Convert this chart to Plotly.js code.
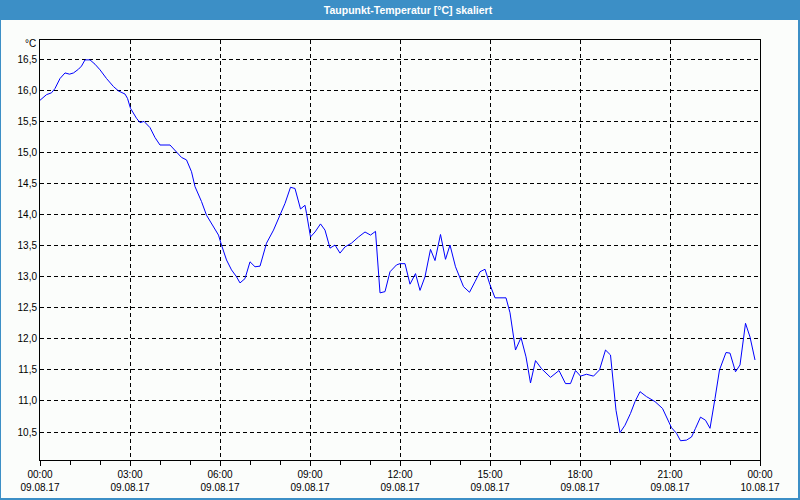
<!DOCTYPE html>
<html>
<head>
<meta charset="utf-8">
<script src="https://cdn.plot.ly/plotly-3.0.1.min.js"></script>
<style>
  html, body { margin: 0; padding: 0; background: #3c8fc6; }
  #chart { width: 800px; height: 500px; }
</style>
</head>
<body>
<div id="chart"></div>
<script>
// Dew point temperature on 09.08.17 (°C)
const chartTitle = "Taupunkt-Temperatur [°C] skaliert";
const unitLabel = "°C";
const day = "2017-08-09";
const nextDay = "2017-08-10";

const times = [
  "00:00","00:13","00:23","00:30","00:40","00:50","00:59","01:07","01:17","01:23",
  "01:30","01:40","01:50","02:00","02:13","02:27","02:37","02:50","02:55","03:01",
  "03:13","03:20","03:28","03:40","03:50","04:00","04:20","04:33","04:43","04:53",
  "05:03","05:10","05:23","05:33","05:47","05:57","06:03","06:13","06:23","06:33",
  "06:40","06:50","07:00","07:10","07:20","07:33","07:47","08:00","08:10","08:21",
  "08:30","08:41","08:50","08:53","09:01","09:10","09:21","09:30","09:40","09:50",
  "10:00","10:10","10:23","10:37","10:50","11:01","11:11","11:20","11:30","11:40",
  "11:53","12:00","12:10","12:20","12:31","12:40","12:50","13:01","13:10","13:21",
  "13:31","13:40","13:51","14:07","14:19","14:30","14:40","14:50","15:00","15:10",
  "15:32","15:40","15:51","16:02","16:12","16:21","16:31","16:43","17:01","17:18",
  "17:31","17:41","17:51","18:01","18:13","18:27","18:39","18:51","19:01","19:12",
  "19:20","19:30","19:41","19:50","20:00","20:13","20:30","20:45","20:53","21:03",
  "21:13","21:21","21:33","21:43","21:51","22:01","22:11","22:20","22:30","22:39",
  "22:52","23:00","23:11","23:20","23:31","23:40","23:50"
];

const dewPoint = [
  15.84,15.93,15.96,16.03,16.19,16.28,16.26,16.28,16.34,16.39,
  16.49,16.49,16.42,16.33,16.19,16.06,15.99,15.94,15.87,15.71,
  15.55,15.48,15.50,15.40,15.24,15.12,15.12,15.01,14.92,14.88,
  14.69,14.45,14.21,13.99,13.80,13.67,13.51,13.27,13.11,13.00,
  12.90,12.97,13.24,13.16,13.17,13.54,13.75,14.00,14.18,14.44,
  14.42,14.09,14.15,14.02,13.64,13.72,13.85,13.75,13.46,13.51,
  13.38,13.48,13.54,13.64,13.72,13.67,13.73,12.74,12.76,13.08,
  13.19,13.21,13.21,12.88,13.05,12.78,13.00,13.44,13.26,13.68,
  13.28,13.51,13.16,12.84,12.75,12.92,13.08,13.12,12.87,12.66,
  12.66,12.42,11.82,12.02,11.71,11.29,11.65,11.52,11.38,11.49,
  11.28,11.28,11.49,11.40,11.43,11.40,11.50,11.82,11.74,10.85,
  10.49,10.61,10.80,10.99,11.15,11.07,10.99,10.88,10.74,10.57,
  10.48,10.36,10.37,10.42,10.56,10.74,10.69,10.56,11.04,11.50,
  11.78,11.77,11.47,11.58,12.25,12.03,11.66
];

const yTicks = [10.5, 11.0, 11.5, 12.0, 12.5, 13.0, 13.5, 14.0, 14.5, 15.0, 15.5, 16.0, 16.5];

const xValues = times.map(t => day + " " + t);

const W = 800, H = 500;
const M = {l: 40, r: 40, t: 40, b: 40};
const pw = W - M.l - M.r, ph = H - M.t - M.b;
const px = v => (v - M.l) / pw;          // pixel x -> paper x
const py = v => (H - M.b - v) / ph;      // pixel y -> paper y

const font = "Liberation Sans, Arial, sans-serif";

const trace = {
  type: "scatter",
  mode: "lines",
  x: xValues,
  y: dewPoint,
  line: {color: "#0000ff", width: 1},
  hoverinfo: "x+y"
};

const layout = {
  width: W, height: H,
  margin: M,
  separators: ", ",
  paper_bgcolor: "#3c8fc6",
  plot_bgcolor: "#fbfdfb",
  showlegend: false,
  font: {family: font, size: 10, color: "#000"},
  title: {
    text: "<b>" + chartTitle + "</b>",
    font: {family: font, size: 10.5, color: "#ffffff"},
    x: 408 / W, xanchor: "center", xref: "container",
    y: 1 - 10 / H, yanchor: "middle", yref: "container"
  },
  xaxis: {
    type: "date",
    range: [day + " 00:00", nextDay + " 00:00"],
    tick0: day + " 00:00",
    dtick: 3 * 3600000,
    tickformat: "%H:%M<br>%d.%m.%y",
    ticks: "outside", ticklen: 5, tickcolor: "#000", tickwidth: 1,
    minor: {dtick: 3600000, ticks: "outside", ticklen: 4, tickcolor: "#000", showgrid: false},
    showgrid: true, gridcolor: "#000", gridwidth: 1, griddash: "4px,3px",
    showline: true, linecolor: "#000", linewidth: 1, mirror: true,
    zeroline: false,
    tickfont: {family: font, size: 10, color: "#000"},
    fixedrange: true
  },
  yaxis: {
    range: [10.05, 16.81],
    tickvals: yTicks,
    tickformat: ".1f",
    ticks: "",
    showgrid: true, gridcolor: "#000", gridwidth: 1, griddash: "4px,3px",
    showline: true, linecolor: "#000", linewidth: 1, mirror: true,
    zeroline: false,
    tickfont: {family: font, size: 10, color: "#000"},
    fixedrange: true
  },
  shapes: [{
    type: "rect", xref: "paper", yref: "paper", layer: "below",
    x0: px(1), x1: px(798), y0: py(498), y1: py(20),
    fillcolor: "#fbfdfb", line: {width: 0}
  }],
  annotations: [{
    text: unitLabel, xref: "paper", yref: "paper",
    x: px(38), y: py(44), xanchor: "right", yanchor: "middle",
    showarrow: false, font: {family: font, size: 10, color: "#000"}
  }]
};

Plotly.newPlot("chart", [trace], layout, {displayModeBar: false, staticPlot: true});
</script>
</body>
</html>
